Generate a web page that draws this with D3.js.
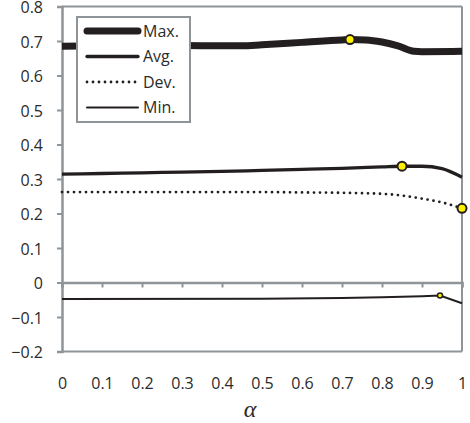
<!DOCTYPE html>
<html>
<head>
<meta charset="utf-8">
<script src="https://cdn.jsdelivr.net/npm/d3@7"></script>
<style>
body { margin: 0; background: #fff; }
svg text { font-family: "Open Sans", "DejaVu Sans", sans-serif; fill: #2b2b2b; }
</style>
</head>
<body>
<div id="chart"></div>
<script>
var width = 470, height = 423;
var margin = { top: 6.5, right: 8, bottom: 71.5, left: 62 };

// x values, per series
var maxAlpha = [0, 0.1, 0.2, 0.3, 0.4, 0.45, 0.5, 0.6, 0.7, 0.72, 0.76, 0.8, 0.84, 0.88, 0.9, 1];
var maxVals  = [0.685, 0.686, 0.687, 0.687, 0.686, 0.686, 0.689, 0.696, 0.703, 0.704, 0.703, 0.697, 0.686, 0.670, 0.669, 0.670];

var avgAlpha = [0, 0.1, 0.2, 0.3, 0.4, 0.5, 0.6, 0.7, 0.8, 0.85, 0.9, 0.95, 1];
var avgVals  = [0.314, 0.316, 0.318, 0.320, 0.322, 0.325, 0.328, 0.331, 0.335, 0.337, 0.337, 0.330, 0.305];

var devAlpha = [0, 0.5, 0.6, 0.7, 0.8, 0.85, 0.9, 0.95, 1];
var devVals  = [0.262, 0.262, 0.261, 0.260, 0.257, 0.252, 0.243, 0.232, 0.215];

var minAlpha = [0, 0.5, 0.7, 0.8, 0.9, 0.945, 1];
var minVals  = [-0.048, -0.047, -0.045, -0.043, -0.040, -0.038, -0.060];

// highlighted points (index into each series)
var peakIdx = { max: 9, avg: 9, dev: 8, min: 5 };

var xTicks = [0, 0.1, 0.2, 0.3, 0.4, 0.5, 0.6, 0.7, 0.8, 0.9, 1];
var yTicks = [-0.2, -0.1, 0, 0.1, 0.2, 0.3, 0.4, 0.5, 0.6, 0.7, 0.8];
var legendNames = ["Max.", "Avg.", "Dev.", "Min."];

var gray = "#8f9499", ink = "#231f20";

var svg = d3.select("#chart").append("svg")
    .attr("width", width)
    .attr("height", height);

var x = d3.scaleLinear().domain([0, 1]).range([margin.left, width - margin.right]);
var y = d3.scaleLinear().domain([-0.2, 0.8]).range([height - margin.bottom, margin.top]);

// frame: top and right border, bottom line at -0.2
svg.append("line").attr("x1", x(0)).attr("x2", x(1)).attr("y1", y(0.8)).attr("y2", y(0.8))
    .attr("stroke", gray).attr("stroke-width", 2);
svg.append("line").attr("x1", x(1)).attr("x2", x(1)).attr("y1", y(0.8)).attr("y2", y(-0.2))
    .attr("stroke", gray).attr("stroke-width", 2);
svg.append("line").attr("x1", x(0)).attr("x2", x(1)).attr("y1", y(-0.2)).attr("y2", y(-0.2))
    .attr("stroke", gray).attr("stroke-width", 2);

var fmt = function (d) { return d3.format("")(Math.round(d * 10) / 10); };

// y axis
var yAxis = svg.append("g")
    .attr("transform", "translate(" + x(0) + ",0)")
    .call(d3.axisLeft(y).tickValues(yTicks).tickSize(5).tickPadding(14).tickFormat(fmt));
yAxis.select(".domain").attr("stroke", gray).attr("stroke-width", 2.5);
yAxis.selectAll(".tick line").attr("stroke", gray).attr("stroke-width", 2);
yAxis.selectAll("text").attr("font-size", 16).attr("fill", null).attr("font-family", null)
    .attr("dy", "0.38em");

// x axis line at zero, ticks pointing down
var xAxis = svg.append("g")
    .attr("transform", "translate(0," + y(0) + ")")
    .call(d3.axisBottom(x).tickValues(xTicks).tickSize(5).tickFormat(""));
xAxis.select(".domain").attr("stroke", gray).attr("stroke-width", 2.5);
xAxis.selectAll(".tick line").attr("stroke", gray).attr("stroke-width", 2);

// x labels below the frame
var xLab = svg.append("g")
    .attr("transform", "translate(0," + (y(-0.2) + 26) + ")")
    .call(d3.axisBottom(x).tickValues(xTicks).tickSize(0).tickPadding(0).tickFormat(fmt));
xLab.select(".domain").remove();
xLab.selectAll("text").attr("font-size", 16).attr("fill", null).attr("font-family", null);

svg.append("text")
    .attr("x", 250).attr("y", 417)
    .attr("text-anchor", "middle")
    .style("font-family", "'Liberation Serif', 'DejaVu Serif', serif")
    .style("font-style", "italic")
    .attr("font-size", 24)
    .text("α");

var line = d3.line()
    .x(function (d) { return x(d[0]); })
    .y(function (d) { return y(d[1]); });

function pairs(a, v) { return a.map(function (d, i) { return [d, v[i]]; }); }

var series = [
    { key: "max", data: pairs(maxAlpha, maxVals), w: 7, dash: null, r: 4.5, curve: d3.curveMonotoneX },
    { key: "avg", data: pairs(avgAlpha, avgVals), w: 3.3, dash: null, r: 4.5, curve: d3.curveMonotoneX },
    { key: "dev", data: pairs(devAlpha, devVals), w: 2.8, dash: "0,6", r: 4.5, curve: d3.curveMonotoneX },
    { key: "min", data: pairs(minAlpha, minVals), w: 2, dash: null, r: 2.5, curve: d3.curveLinear }
];

series.forEach(function (s) {
    svg.append("path")
        .datum(s.data)
        .attr("fill", "none")
        .attr("stroke", ink)
        .attr("stroke-width", s.w)
        .attr("stroke-linecap", s.dash ? "round" : "butt")
        .attr("stroke-dasharray", s.dash)
        .attr("d", line.curve(s.curve));
});

series.forEach(function (s) {
    var p = s.data[peakIdx[s.key]];
    svg.append("circle")
        .attr("cx", x(p[0]))
        .attr("cy", y(p[1]))
        .attr("r", s.r)
        .attr("fill", "#fff200")
        .attr("stroke", ink)
        .attr("stroke-width", s.key == "min" ? 1.5 : 2);
});

// legend
var legend = svg.append("g").attr("transform", "translate(77,17)");
legend.append("rect")
    .attr("width", 113).attr("height", 105)
    .attr("fill", "#fff")
    .attr("stroke", gray).attr("stroke-width", 2);

legendNames.forEach(function (name, i) {
    var s = series[i];
    var ly = 14 + i * 25.5;
    legend.append("line")
        .attr("x1", 10).attr("x2", 61)
        .attr("y1", ly).attr("y2", ly)
        .attr("stroke", ink)
        .attr("stroke-width", s.w)
        .attr("stroke-linecap", "round")
        .attr("stroke-dasharray", s.dash);
    legend.append("text")
        .attr("x", 66).attr("y", ly + 5.5)
        .attr("font-size", 16)
        .text(name);
});
</script>
</body>
</html>
